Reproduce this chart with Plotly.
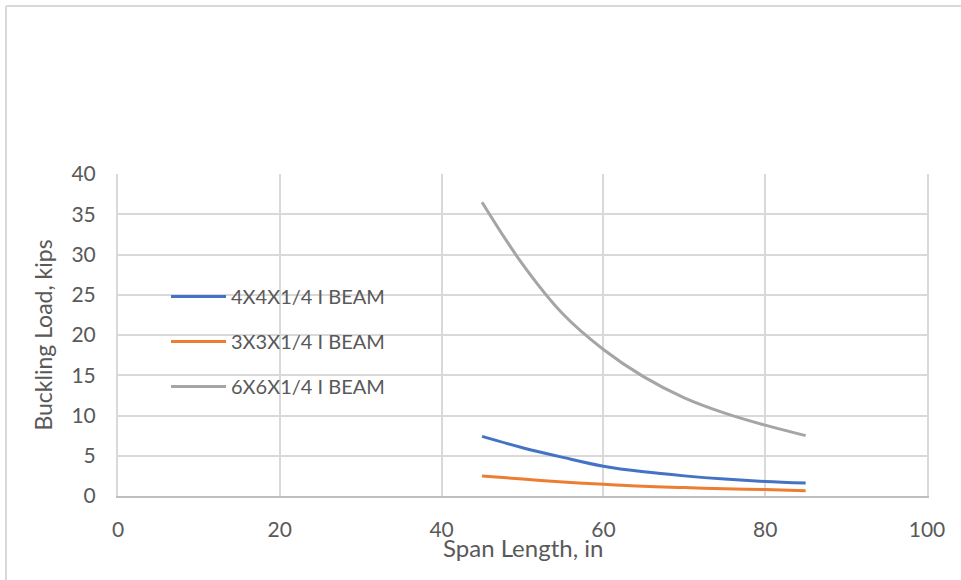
import plotly.graph_objects as go

# Span lengths (in) and buckling loads (kips) for each section
span_in = [45, 50, 55, 60, 65, 70, 75, 80, 85]
load_4x4 = [7.4, 6.0, 4.8, 3.7, 3.0, 2.5, 2.1, 1.8, 1.6]
load_3x3 = [2.5, 2.1, 1.75, 1.45, 1.2, 1.05, 0.9, 0.8, 0.65]
load_6x6 = [36.5, 28.8, 22.6, 18.2, 14.8, 12.2, 10.3, 8.8, 7.5]

series_names = ["4X4X1/4 I BEAM", "3X3X1/4 I BEAM", "6X6X1/4 I BEAM"]
series_colors = ["#4472C4", "#ED7D31", "#A5A5A5"]
x_ticks = [0, 20, 40, 60, 80, 100]
y_ticks = [0, 5, 10, 15, 20, 25, 30, 35, 40]

FONT = "Lato, 'Open Sans', sans-serif"
TEXT_COLOR = "#595959"

fig = go.Figure()
for i, (name, vals, col) in enumerate(zip(series_names, [load_4x4, load_3x3, load_6x6], series_colors)):
    fig.add_trace(go.Scatter(
        x=span_in, y=vals, name=name, mode="lines",
        line=dict(color=col, width=3, shape="spline", smoothing=1.0),
        legendgroup=f"g{i}",
    ))

W, H = 961, 580
L, R, T, B = 118, 34, 174, 84
PW, PH = W - L - R, H - T - B

fig.update_layout(
    width=W, height=H,
    margin=dict(l=L, r=R, t=T, b=B, autoexpand=False),
    paper_bgcolor="white", plot_bgcolor="white",
    font=dict(family=FONT, size=20, color=TEXT_COLOR),
    showlegend=True,
    legend=dict(
        x=(166 - L) / PW, y=(496 - 277) / PH,
        xanchor="left", yanchor="top",
        bgcolor="rgba(0,0,0,0)", tracegroupgap=16, itemwidth=55,
        font=dict(family=FONT, size=20, color=TEXT_COLOR),
    ),
    xaxis=dict(
        range=[0, 100], tickvals=x_ticks, ticks="", showgrid=True,
        gridcolor="#D9D9D9", gridwidth=1.5, zeroline=False,
        showline=True, linecolor="#BFBFBF", linewidth=2,
        ticklabelstandoff=14, tickfont=dict(size=21),
    ),
    yaxis=dict(
        range=[0, 40], tickvals=y_ticks, ticks="", showgrid=True,
        gridcolor="#D9D9D9", gridwidth=1.5, zeroline=False,
        showline=True, linecolor="#D9D9D9", linewidth=2, mirror=True,
        ticklabelstandoff=16, tickfont=dict(size=21),
        title=dict(text="Buckling Load, kips", standoff=12,
                   font=dict(family=FONT, size=23, color=TEXT_COLOR)),
    ),
    annotations=[
        # x-axis title sits tight under the tick labels
        dict(text="Span Length, in", xref="paper", yref="paper",
             x=0.5, y=-(547 - 496) / PH, xanchor="center", yanchor="middle",
             showarrow=False, font=dict(family=FONT, size=24, color=TEXT_COLOR)),
    ],
    shapes=[
        # chart area outline (left and top edges)
        dict(type="line", xref="paper", yref="paper",
             x0=(6 - L) / PW, x1=(6 - L) / PW,
             y0=(H - B - 6) / PH, y1=(H - B - H) / PH,
             line=dict(color="#D9D9D9", width=2)),
        dict(type="line", xref="paper", yref="paper",
             x0=(6 - L) / PW, x1=(W - L) / PW,
             y0=(H - B - 6) / PH, y1=(H - B - 6) / PH,
             line=dict(color="#D9D9D9", width=2)),
    ],
)

fig.write_html("out.html")
